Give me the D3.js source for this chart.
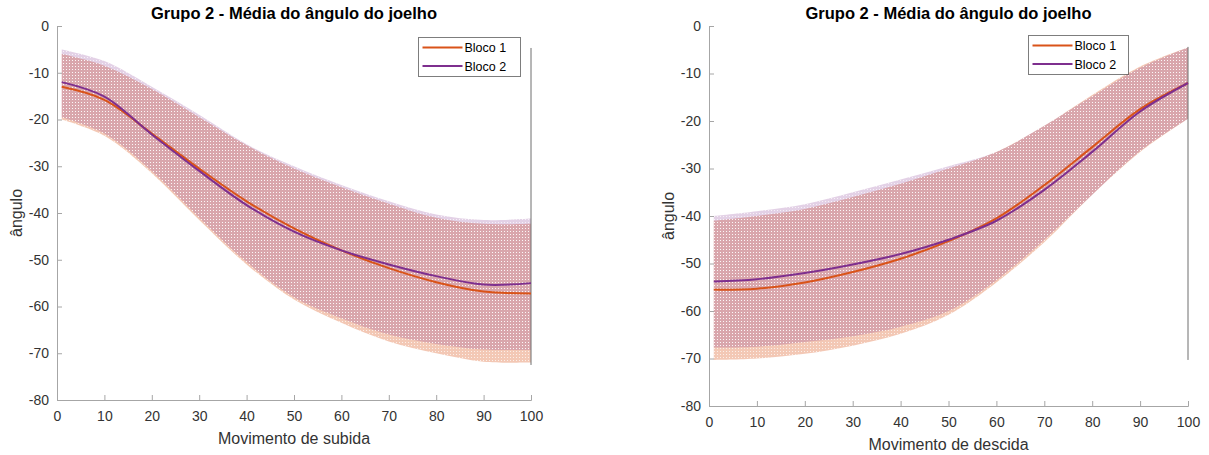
<!DOCTYPE html>
<html><head><meta charset="utf-8">
<script src="https://cdn.jsdelivr.net/npm/d3@7"></script>
<style>
body{margin:0;background:#fff;}
text{font-family:"Liberation Sans",Arial,Helvetica,sans-serif;}
</style></head>
<body><svg id="c" width="1209" height="455"></svg>
<script>
// ---- data ----
const xs = [1,10,20,30,40,50,60,70,80,90,100];
const xTicks = [0,10,20,30,40,50,60,70,80,90,100];
const yTicks = [0,-10,-20,-30,-40,-50,-60,-70,-80];
const seriesNames = ["Bloco 1","Bloco 2"];
const titleText = "Grupo 2 - Média do ângulo do joelho";
const yLabel = "ângulo";

// Movimento de subida
const upB1Mean  = [-13,-15.8,-23,-30.5,-37.5,-43.3,-48,-51.8,-54.8,-56.8,-57.2];
const upB2Mean  = [-12,-15.1,-23.2,-31,-38.3,-44,-48,-51,-53.5,-55.3,-55.0];
const upB1Upper = [-6,-8.5,-13.5,-19.5,-25.5,-30.5,-34.5,-38,-41,-42.3,-42.3];
const upB2Upper = [-5,-7.5,-13,-19,-25.3,-30,-34,-37.5,-40.3,-41.5,-41.2];
const upB1Lower = [-20,-23.5,-31.5,-41.5,-51,-58.5,-63.5,-67.5,-70,-71.8,-72];
const upB2Lower = [-19.5,-23,-31,-41,-50.5,-58,-62.5,-66,-68,-69.2,-69.3];
const upEdge    = [-4.7,-72.5];

// Movimento de descida
const dnB1Mean  = [-55.5,-55.3,-54,-51.8,-49,-45.3,-40.5,-33.5,-25.5,-17.5,-12];
const dnB2Mean  = [-53.8,-53.3,-52,-50.2,-48,-45,-41,-34.5,-26.5,-18,-12];
const dnB1Upper = [-41,-40,-38.5,-36,-33.2,-30,-26.5,-21,-14.5,-8.5,-4.5];
const dnB2Upper = [-40,-39,-37.5,-35,-32.3,-29.5,-26.5,-21,-14.8,-8.8,-4.5];
const dnB1Lower = [-70.3,-70,-69,-67.3,-64.8,-60.8,-54,-45.5,-35.5,-26.5,-19.5];
const dnB2Lower = [-67.7,-67.5,-66.5,-65.3,-63.3,-60,-53.5,-45,-35.5,-26.3,-19.5];
const dnEdge    = [-4.4,-70.3];

const colors = ["#D95319","#7E2F8E"];

const svg = d3.select("#c");
const defs = svg.append("defs");
const pat = defs.append("pattern").attr("id","dots").attr("patternUnits","userSpaceOnUse")
  .attr("width",3).attr("height",3);
pat.append("rect").attr("x",0).attr("y",0).attr("width",1).attr("height",1).attr("fill","#fff").attr("fill-opacity",0.7);

function panel(o){
  const g = svg.append("g");
  const x = d3.scaleLinear().domain([0,100]).range([o.x0,o.x1]);
  const y = d3.scaleLinear().domain([-80,0]).range([o.y1,o.y0]);
  const cv = d3.curveCatmullRom.alpha(0.5);
  const area = (lo,hi)=>d3.area().x((d,i)=>x(xs[i])).y0((d,i)=>y(lo[i])).y1((d,i)=>y(hi[i])).curve(cv)(xs);
  const line = v=>d3.line().x((d,i)=>x(xs[i])).y((d,i)=>y(v[i])).curve(cv)(xs);
  // bands
  g.append("path").attr("d",area(o.b1lo,o.b1hi)).attr("fill",colors[0]).attr("fill-opacity",0.32);
  g.append("path").attr("d",area(o.b2lo,o.b2hi)).attr("fill",colors[1]).attr("fill-opacity",0.22);
  g.append("path").attr("d",area(o.b1lo,o.b1hi)).attr("fill","url(#dots)");
  g.append("path").attr("d",area(o.b2lo,o.b2hi)).attr("fill","url(#dots)");
  // edge line
  g.append("line").attr("x1",x(100)).attr("x2",x(100)).attr("y1",y(o.edge[0])).attr("y2",y(o.edge[1]))
    .attr("stroke","#6e6e6e").attr("stroke-width",1);
  // mean lines
  g.append("path").attr("d",line(o.m1)).attr("fill","none").attr("stroke",colors[0]).attr("stroke-width",2);
  g.append("path").attr("d",line(o.m2)).attr("fill","none").attr("stroke",colors[1]).attr("stroke-width",2);
  // axes
  const ax = g.append("g").attr("transform",`translate(0,${o.y1})`)
    .call(d3.axisBottom(x).tickValues(xTicks).tickSize(-5).tickPadding(11).tickFormat(d3.format("d")));
  const ay = g.append("g").attr("transform",`translate(${o.x0},0)`)
    .call(d3.axisLeft(y).tickValues(yTicks).tickSize(-5).tickPadding(8));
  [ax,ay].forEach(a=>{
    a.select(".domain").attr("stroke","#a6a6a6");
    a.selectAll(".tick line").attr("stroke","#a6a6a6");
    a.selectAll(".tick text").attr("fill","#333").attr("font-size",14);
  });
  ay.selectAll(".tick text").text(d=>d===0?"0":"-"+Math.abs(d));
  // title & labels
  g.append("text").attr("x",(o.x0+o.x1)/2).attr("y",o.y0-7).attr("text-anchor","middle")
    .attr("font-weight","bold").attr("font-size",16.5).attr("fill","#000").text(titleText);
  g.append("text").attr("x",(o.x0+o.x1)/2).attr("y",o.y1+44).attr("text-anchor","middle")
    .attr("font-size",16).attr("fill","#333").text(o.xlabel);
  g.append("text").attr("transform",`translate(${o.x0-35},${(o.y0+o.y1)/2}) rotate(-90)`).attr("text-anchor","middle")
    .attr("font-size",16).attr("fill","#333").text(yLabel);
  // legend
  const lg = g.append("g").attr("transform",`translate(${o.lx},${o.ly})`);
  lg.append("rect").attr("x",0).attr("y",0).attr("width",o.lw).attr("height",39)
    .attr("fill","#fff").attr("stroke","#262626").attr("stroke-opacity",0.6).attr("stroke-width",1);
  seriesNames.forEach((n,i)=>{
    lg.append("line").attr("x1",4).attr("x2",44).attr("y1",10+i*18.5).attr("y2",10+i*18.5)
      .attr("stroke",colors[i]).attr("stroke-width",2);
    lg.append("text").attr("x",46).attr("y",14.5+i*18.5).attr("font-size",12.5).attr("fill","#000").text(n);
  });
}

panel({x0:57,x1:531,y0:26,y1:400,xlabel:"Movimento de subida",
  m1:upB1Mean,m2:upB2Mean,b1hi:upB1Upper,b2hi:upB2Upper,b1lo:upB1Lower,b2lo:upB2Lower,edge:upEdge,
  lx:418.5,ly:37.5,lw:102});
panel({x0:709,x1:1188,y0:26,y1:406,xlabel:"Movimento de descida",
  m1:dnB1Mean,m2:dnB2Mean,b1hi:dnB1Upper,b2hi:dnB2Upper,b1lo:dnB1Lower,b2lo:dnB2Lower,edge:dnEdge,
  lx:1028.5,ly:35.5,lw:100});
</script></body></html>
